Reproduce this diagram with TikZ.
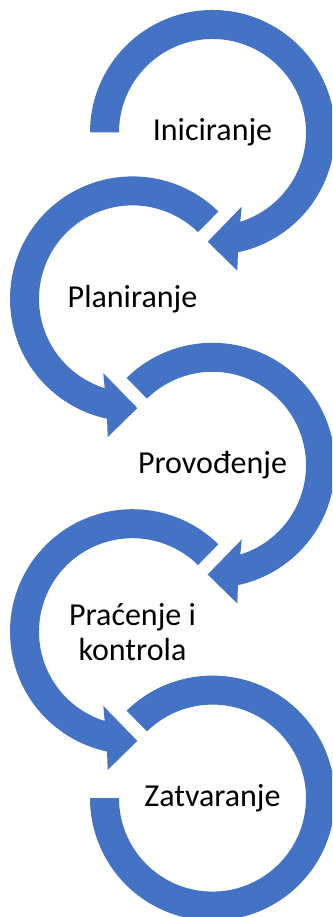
\documentclass[tikz,border=0pt]{standalone}
\usepackage{fontspec}
\setmainfont{Carlito}
\usetikzlibrary{calc}
\definecolor{officeblue}{HTML}{4472C4}
\tikzset{
  ring/.style={fill=officeblue, draw=none},
  label/.style={font=\fontsize{32}{35}\selectfont, text=black, align=center, inner sep=0pt}
}
\begin{document}
\begin{tikzpicture}[x=1pt,y=1pt]
\useasboundingbox (0,0) rectangle (332,917);
\clip (0,0) rectangle (332,917);
\coordinate (o1) at (212.5,784.5);
\coordinate (o2) at (132.5,618.1);
\coordinate (o3) at (212.5,451.7);
\coordinate (o4) at (132.5,285.3);
\coordinate (o5) at (212.5,118.9);
% ring 1 (starts flat at left, clockwise)
\fill[ring] ($(o1)+(180:122.5pt)$) arc[start angle=180, end angle=-78, radius=122.5pt]
  -- ($(o1)+(24.8,-138.2)$) -- ($(o1)+(-4.8,-109.2)$) -- ($(o1)+(29.2,-74.2)$)
  -- ($(o1)+(-72.7:93.5pt)$) arc[start angle=-72.7, end angle=180, radius=93.5pt] -- cycle;
% ring 2 (left, counterclockwise)
\fill[ring] ($(o2)+(45.5:122.5pt)$) arc[start angle=45.5, end angle=258, radius=122.5pt]
  -- ($(o2)+(-24.8,-138.2)$) -- ($(o2)+(4.8,-109.2)$) -- ($(o2)+(-29.2,-74.2)$)
  -- ($(o2)+(252.7:93.5pt)$) arc[start angle=252.7, end angle=45.5, radius=93.5pt] -- cycle;
% ring 3 (right, clockwise)
\fill[ring] ($(o3)+(134.5:122.5pt)$) arc[start angle=134.5, end angle=-78, radius=122.5pt]
  -- ($(o3)+(24.8,-138.2)$) -- ($(o3)+(-4.8,-109.2)$) -- ($(o3)+(29.2,-74.2)$)
  -- ($(o3)+(-72.7:93.5pt)$) arc[start angle=-72.7, end angle=134.5, radius=93.5pt] -- cycle;
% ring 4 (left, counterclockwise)
\fill[ring] ($(o4)+(45.5:122.5pt)$) arc[start angle=45.5, end angle=258, radius=122.5pt]
  -- ($(o4)+(-24.8,-138.2)$) -- ($(o4)+(4.8,-109.2)$) -- ($(o4)+(-29.2,-74.2)$)
  -- ($(o4)+(252.7:93.5pt)$) arc[start angle=252.7, end angle=45.5, radius=93.5pt] -- cycle;
% ring 5 (right, clockwise, ends flat at left)
\fill[ring] ($(o5)+(134.5:122.5pt)$) arc[start angle=134.5, end angle=-180, radius=122.5pt]
  -- ($(o5)+(-180:93.5pt)$) arc[start angle=-180, end angle=134.5, radius=93.5pt] -- cycle;
% labels
\node[label] (t1) at (o1) {Iniciranje};
\node[label] (t2) at (o2) {Planiranje};
\node[label] (t3) at (o3) {Provođenje};
\node[label] (t4) at (o4) {Praćenje i\\kontrola};
\node[label] (t5) at (o5) {Zatvaranje};
\end{tikzpicture}
\end{document}
